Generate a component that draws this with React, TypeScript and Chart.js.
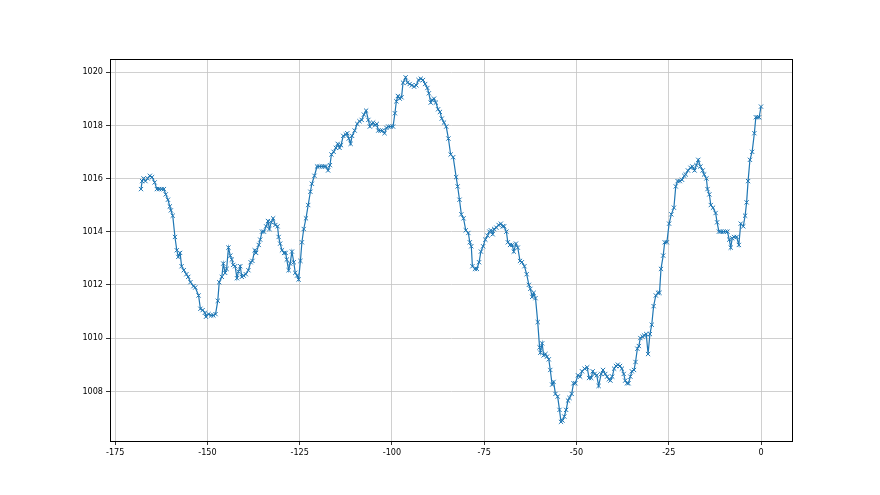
import React, { useEffect, useRef } from "react";
import { Chart, registerables } from "chart.js";

Chart.register(...registerables);

// Hours relative to now (one entry per marker)
const hours: number[] = [
  -168.0, -167.7, -167.3, -166.8, -166.2, -165.6, -165.0, -164.3, -163.7, -163.1,
  -162.4, -161.8, -161.3, -160.7, -160.2, -159.9, -159.4, -158.8, -158.3, -157.9,
  -157.4, -157.0, -156.4, -155.7, -155.2, -154.6, -153.8, -153.3, -152.4, -151.9,
  -151.3, -150.7, -150.4, -149.7, -149.0, -148.4, -147.8, -147.2, -146.8, -146.1,
  -145.7, -145.2, -144.8, -144.3, -143.8, -143.4, -143.0, -142.5, -142.0, -141.6,
  -141.1, -140.7, -140.2, -139.6, -138.9, -138.3, -137.8, -137.2, -136.8, -136.1,
  -135.7, -135.2, -134.7, -134.1, -133.6, -133.2, -132.7, -132.2, -131.6, -131.0,
  -130.7, -130.3, -129.8, -129.2, -128.8, -128.5, -128.0, -127.6, -127.1, -126.6,
  -126.2, -125.7, -125.3, -124.8, -124.4, -123.9, -123.3, -122.7, -122.1, -121.7,
  -121.0, -120.3, -119.7, -119.0, -118.4, -117.9, -117.3, -116.8, -116.4, -115.8,
  -115.2, -114.7, -114.2, -113.8, -113.2, -112.5, -112.1, -111.7, -111.2, -110.8,
  -110.1, -109.4, -108.8, -108.2, -107.6, -107.0, -106.4, -106.0, -105.5, -105.1,
  -104.6, -104.1, -103.7, -103.1, -102.6, -102.0, -101.5, -101.0, -100.4, -99.7,
  -99.2, -98.8, -98.4, -97.9, -97.4, -97.0, -96.3, -95.8, -95.2, -94.6,
  -94.0, -93.4, -92.8, -92.2, -91.6, -91.0, -90.4, -90.0, -89.5, -89.1,
  -88.6, -88.1, -87.5, -87.0, -86.5, -85.9, -85.3, -84.7, -84.1, -83.4,
  -82.6, -82.2, -81.7, -81.2, -80.6, -80.0, -79.3, -78.9, -78.5, -78.2,
  -77.5, -77.0, -76.4, -75.9, -75.3, -74.7, -74.1, -73.6, -73.2, -72.7,
  -72.3, -71.7, -71.1, -70.5, -70.0, -69.6, -69.0, -68.6, -68.0, -67.4,
  -67.0, -66.4, -65.9, -65.3, -64.8, -64.1, -63.5, -62.9, -62.5, -62.0,
  -61.6, -61.1, -60.5, -60.0, -59.8, -59.3, -58.9, -58.4, -58.0, -57.5,
  -57.1, -56.6, -56.2, -55.7, -55.1, -54.6, -54.2, -53.8, -53.3, -52.8,
  -52.3, -51.9, -51.3, -50.8, -50.3, -49.6, -49.0, -48.5, -47.8, -47.1,
  -46.6, -46.0, -45.6, -45.1, -44.5, -44.0, -43.3, -42.8, -42.2, -41.7,
  -41.2, -40.8, -40.3, -39.8, -39.3, -38.8, -38.2, -37.7, -37.2, -36.8,
  -36.3, -35.9, -35.4, -35.0, -34.4, -34.0, -33.5, -33.1, -32.7, -32.1,
  -31.7, -31.1, -30.6, -30.1, -29.6, -29.1, -28.5, -27.9, -27.5, -27.1,
  -26.5, -26.1, -25.5, -24.9, -24.3, -23.6, -23.1, -22.6, -22.0, -21.4,
  -20.8, -20.4, -19.8, -19.1, -18.6, -18.0, -17.5, -17.0, -16.4, -15.8,
  -15.4, -14.8, -14.5, -14.0, -13.6, -13.0, -12.3, -11.9, -11.4, -10.9,
  -10.2, -9.6, -9.1, -8.6, -8.2, -7.8, -7.3, -6.6, -6.0, -5.5,
  -4.8, -4.3, -3.9, -3.5, -3.0, -2.4, -1.8, -1.4, -0.9, -0.5,
  0.0,
];

// Pressure (hPa)
const pressure: number[] = [
  1015.6, 1015.9, 1016.0, 1015.9, 1016.0, 1016.1, 1016.05, 1015.85, 1015.6, 1015.6,
  1015.6, 1015.6, 1015.4, 1015.2, 1014.95, 1014.8, 1014.6, 1013.8, 1013.3, 1013.05,
  1013.2, 1012.7, 1012.55, 1012.4, 1012.3, 1012.1, 1011.95, 1011.9, 1011.6, 1011.1,
  1011.05, 1010.95, 1010.8, 1010.9, 1010.85, 1010.85, 1010.9, 1011.4, 1012.1, 1012.3,
  1012.8, 1012.45, 1012.6, 1013.4, 1013.1, 1012.95, 1012.75, 1012.7, 1012.25, 1012.5,
  1012.7, 1012.3, 1012.35, 1012.4, 1012.55, 1012.85, 1012.9, 1013.3, 1013.2, 1013.5,
  1013.7, 1014.0, 1014.0, 1014.2, 1014.4, 1014.1, 1014.35, 1014.5, 1014.25, 1014.2,
  1013.8, 1013.55, 1013.3, 1013.2, 1013.2, 1012.95, 1012.55, 1012.8, 1013.25, 1012.85,
  1012.45, 1012.35, 1012.2, 1012.9, 1013.6, 1014.1, 1014.5, 1015.0, 1015.5, 1015.8,
  1016.1, 1016.45, 1016.45, 1016.45, 1016.45, 1016.45, 1016.3, 1016.5, 1016.9, 1017.0,
  1017.15, 1017.3, 1017.15, 1017.25, 1017.6, 1017.65, 1017.7, 1017.5, 1017.3, 1017.6,
  1017.8, 1018.05, 1018.15, 1018.2, 1018.4, 1018.55, 1018.2, 1017.95, 1018.05, 1018.1,
  1018.0, 1018.05, 1017.8, 1017.8, 1017.8, 1017.7, 1017.9, 1017.95, 1017.95, 1017.95,
  1018.45, 1018.9, 1019.1, 1019.0, 1019.05, 1019.6, 1019.8, 1019.6, 1019.55, 1019.5,
  1019.45, 1019.5, 1019.7, 1019.75, 1019.7, 1019.55, 1019.4, 1019.2, 1018.85, 1018.95,
  1019.0, 1018.85, 1018.6, 1018.5, 1018.25, 1018.1, 1017.95, 1017.5, 1016.9, 1016.8,
  1016.05, 1015.7, 1015.2, 1014.65, 1014.5, 1014.05, 1013.95, 1013.6, 1013.45, 1012.7,
  1012.6, 1012.6, 1012.85, 1013.25, 1013.45, 1013.7, 1013.85, 1014.0, 1014.05, 1013.9,
  1014.1, 1014.15, 1014.25, 1014.3, 1014.2, 1014.2, 1014.0, 1013.6, 1013.5, 1013.5,
  1013.25, 1013.55, 1013.4, 1012.9, 1012.85, 1012.7, 1012.4, 1012.0, 1011.85, 1011.55,
  1011.7, 1011.5, 1010.6, 1009.65, 1009.45, 1009.8, 1009.35, 1009.4, 1009.3, 1009.2,
  1008.8, 1008.25, 1008.35, 1007.9, 1007.8, 1007.3, 1006.85, 1006.9, 1007.05, 1007.3,
  1007.65, 1007.75, 1007.9, 1008.3, 1008.3, 1008.6, 1008.55, 1008.75, 1008.85, 1008.9,
  1008.5, 1008.5, 1008.75, 1008.65, 1008.6, 1008.2, 1008.65, 1008.8, 1008.65, 1008.55,
  1008.45, 1008.4, 1008.55, 1008.85, 1008.95, 1009.0, 1008.95, 1008.85, 1008.65, 1008.4,
  1008.3, 1008.3, 1008.55, 1008.75, 1008.8, 1009.1, 1009.6, 1009.7, 1010.0, 1010.05,
  1010.1, 1010.15, 1009.4, 1010.15, 1010.5, 1011.2, 1011.6, 1011.7, 1011.7, 1012.6,
  1013.1, 1013.6, 1013.6, 1014.3, 1014.65, 1014.9, 1015.7, 1015.9, 1015.9, 1015.95,
  1016.1, 1016.15, 1016.3, 1016.4, 1016.45, 1016.3, 1016.5, 1016.7, 1016.45, 1016.3,
  1016.15, 1016.0, 1015.6, 1015.4, 1015.0, 1014.9, 1014.7, 1014.35, 1014.0, 1014.0,
  1014.0, 1014.0, 1014.0, 1013.7, 1013.4, 1013.75, 1013.8, 1013.8, 1013.5, 1014.3,
  1014.2, 1014.6, 1015.1, 1015.9, 1016.7, 1017.0, 1017.7, 1018.3, 1018.3, 1018.3,
  1018.7,
];

const xTicks: number[] = [-175, -150, -125, -100, -75, -50, -25, 0];
const yTicks: number[] = [1008, 1010, 1012, 1014, 1016, 1018, 1020];

const frame = {
  id: "frame",
  afterDraw(chart: any) {
    const { ctx, chartArea } = chart;
    ctx.save();
    ctx.strokeStyle = "#000";
    ctx.lineWidth = 1;
    ctx.strokeRect(
      Math.round(chartArea.left) + 0.5,
      Math.round(chartArea.top) + 0.5,
      Math.round(chartArea.right - chartArea.left),
      Math.round(chartArea.bottom - chartArea.top)
    );
    ctx.restore();
  },
};

export default function App() {
  const ref = useRef<HTMLCanvasElement | null>(null);

  useEffect(() => {
    if (!ref.current) return;
    const data = hours.map((h, i) => ({ x: h, y: pressure[i] }));
    const font = { family: "'DejaVu Sans Condensed', 'DejaVu Sans', sans-serif", size: 9 };
    const chart = new Chart(ref.current, {
      type: "scatter",
      data: {
        datasets: [
          {
            data,
            showLine: true,
            borderColor: "#1f77b4",
            backgroundColor: "#1f77b4",
            borderWidth: 1.2,
            pointStyle: "crossRot",
            pointRadius: 3,
            pointBorderWidth: 1,
            pointBorderColor: "#1f77b4",
            tension: 0,
          },
        ],
      },
      options: {
        animation: false,
        responsive: false,
        devicePixelRatio: 1,
        layout: { padding: { left: 0, top: 59, right: 88, bottom: 0 } },
        plugins: { legend: { display: false }, tooltip: { enabled: false } },
        scales: {
          x: {
            type: "linear",
            min: -176.4,
            max: 8.4,
            afterBuildTicks: (s: any) => {
              s.ticks = xTicks.map((v) => ({ value: v }));
            },
            afterFit: (s: any) => {
              s.height = 54;
            },
            grid: { color: "#c4c4c4", lineWidth: 0.8, tickColor: "#000", tickLength: 4 },
            border: { display: true, color: "#000", width: 1 },
            ticks: {
              color: "#000",
              font,
              padding: 2,
              maxRotation: 0,
              autoSkip: false,
              callback: (v: any) => String(v),
            },
          },
          y: {
            type: "linear",
            min: 1006.13,
            max: 1020.49,
            afterBuildTicks: (s: any) => {
              s.ticks = yTicks.map((v) => ({ value: v }));
            },
            afterFit: (s: any) => {
              s.width = 110;
            },
            grid: { color: "#c4c4c4", lineWidth: 0.8, tickColor: "#000", tickLength: 4 },
            border: { display: true, color: "#000", width: 1 },
            ticks: {
              color: "#000",
              font,
              padding: 3,
              autoSkip: false,
              callback: (v: any) => String(v),
            },
          },
        },
      },
      plugins: [frame],
    });
    return () => chart.destroy();
  }, []);

  return (
    <div style={{ position: "absolute", left: 0, top: 0, width: 880, height: 495, background: "#fff" }}>
      <canvas ref={ref} width={880} height={495} />
    </div>
  );
}
